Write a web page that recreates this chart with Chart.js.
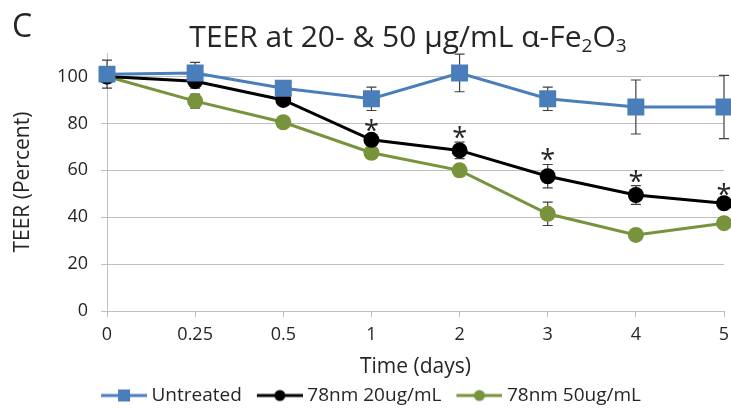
<!DOCTYPE html>
<html>
<head>
<meta charset="utf-8">
<script src="https://cdn.jsdelivr.net/npm/chart.js@4"></script>
<style>
  html, body { margin: 0; padding: 0; background: #fff; }
  #wrap { width: 731px; height: 411px; position: relative; }
</style>
</head>
<body>
<div id="wrap"><canvas id="teer"></canvas></div>
<script>
const days = ['0', '0.25', '0.5', '1', '2', '3', '4', '5'];

const untreated    = [101, 101.5, 95, 90.5, 101.5, 90.5, 87, 87];
const untreatedErr = [6, 4.5, 2, 5, 8, 5, 11.5, 13.5];
const nm20         = [100, 98, 90, 73, 68.5, 57.5, 49.5, 46];
const nm20Err      = [2, 3, 2, 2, 3.5, 5, 4, 2];
const nm50         = [100, 89.5, 80.5, 67.5, 60, 41.5, 32.5, 37.5];
const nm50Err      = [1, 3, 1.5, 1.5, 2.5, 5, 1, 1];
const nm20Sig      = ['', '', '', '*', '*', '*', '*', '*'];

const yTicks = [0, 20, 40, 60, 80, 100];

const BLUE = '#4a7ebb';
const BLACK = '#000000';
const GREEN = '#77933c';
const TEXT = '#262626';
const GRID = '#bfbfbf';
const FONT = "'Open Sans', 'Noto Sans', sans-serif";

// legend icon: a line with the marker in its middle, with blank room on the left
function legendIcon(color, style) {
  const c = document.createElement('canvas');
  c.width = 63;
  c.height = 16;
  const g = c.getContext('2d');
  g.strokeStyle = color;
  g.lineWidth = 3;
  g.beginPath();
  g.moveTo(17, 8);
  g.lineTo(63, 8);
  g.stroke();
  g.fillStyle = color;
  if (style === 'rect') {
    g.fillRect(34, 2, 12, 12);
  } else {
    g.beginPath();
    g.arc(40, 8, 5.5, 0, Math.PI * 2);
    g.fill();
  }
  return c;
}

const errorBarPlugin = {
  id: 'errorBars',
  beforeDatasetsDraw(chart) {
    const { ctx, scales: { x, y } } = chart;
    const errs = [untreatedErr, nm20Err, nm50Err];
    ctx.save();
    ctx.strokeStyle = '#404040';
    ctx.lineWidth = 1.2;
    chart.data.datasets.forEach((ds, i) => {
      ds.data.forEach((v, j) => {
        const e = errs[i][j];
        if (!e) return;
        const px = x.getPixelForValue(j);
        const top = y.getPixelForValue(v + e);
        const bot = y.getPixelForValue(v - e);
        ctx.beginPath();
        ctx.moveTo(px, top);
        ctx.lineTo(px, bot);
        ctx.moveTo(px - 5, top);
        ctx.lineTo(px + 5, top);
        ctx.moveTo(px - 5, bot);
        ctx.lineTo(px + 5, bot);
        ctx.stroke();
      });
    });
    ctx.restore();
  },
  afterDatasetsDraw(chart) {
    const { ctx, scales: { x, y } } = chart;
    ctx.save();
    ctx.fillStyle = TEXT;
    ctx.font = `27px ${FONT}`;
    ctx.textAlign = 'center';
    ctx.textBaseline = 'alphabetic';
    nm20Sig.forEach((s, j) => {
      if (!s) return;
      const px = x.getPixelForValue(j);
      const top = y.getPixelForValue(nm20[j] + nm20Err[j]);
      ctx.fillText(s, px, top + 5);
    });
    ctx.restore();
  },
};

const titlePlugin = {
  id: 'subTitle',
  afterDraw(chart) {
    const ctx = chart.ctx;
    const big = `30px ${FONT}`;
    const small = `19px ${FONT}`;
    const parts = [
      ['TEER at 20- & 50 \u00b5g/mL \u03b1-Fe', big, 0],
      ['2', small, 5],
      ['O', big, 0],
      ['3', small, 5],
    ];
    ctx.save();
    ctx.fillStyle = TEXT;
    ctx.textBaseline = 'alphabetic';
    let w = 0;
    parts.forEach(([t, f]) => { ctx.font = f; w += ctx.measureText(t).width; });
    let cx = 408 - w / 2;
    parts.forEach(([t, f, dy]) => {
      ctx.font = f;
      ctx.fillText(t, cx, 47 + dy);
      cx += ctx.measureText(t).width;
    });
    ctx.font = `32px ${FONT}`;
    ctx.fillText('C', 12, 37);
    ctx.restore();
  },
};

function series(label, data, color, pointStyle, radius) {
  return {
    label,
    data,
    borderColor: color,
    backgroundColor: color,
    borderWidth: 3,
    pointStyle,
    pointRadius: radius,
    pointBorderWidth: 0,
    pointBackgroundColor: color,
    tension: 0,
  };
}

const icons = [legendIcon(BLUE, 'rect'), legendIcon(BLACK, 'circle'), legendIcon(GREEN, 'circle')];

new Chart(document.getElementById('teer'), {
  type: 'line',
  data: {
    labels: days,
    datasets: [
      series('Untreated', untreated, BLUE, 'rect', 12),
      series('78nm 20ug/mL', nm20, BLACK, 'circle', 8),
      series('78nm 50ug/mL', nm50, GREEN, 'circle', 8),
    ],
  },
  options: {
    responsive: true,
    maintainAspectRatio: false,
    animation: false,
    layout: { autoPadding: false, padding: { top: 53, right: 1, left: 0, bottom: -4 } },
    plugins: {
      title: { display: false },
      tooltip: { enabled: false },
      legend: {
        position: 'bottom',
        labels: {
          color: TEXT,
          font: { family: FONT, size: 19 },
          usePointStyle: true,
          pointStyleWidth: 53,
          boxHeight: 16,
          padding: 3,
          generateLabels: (chart) => chart.data.datasets.map((ds, i) => ({
            text: ds.label,
            fontColor: TEXT,
            pointStyle: icons[i],
            datasetIndex: i,
            hidden: false,
            lineWidth: 0,
          })),
        },
      },
    },
    scales: {
      x: {
        type: 'category',
        offset: false,
        afterFit: (scale) => { scale.paddingRight = 7; },
        grid: { drawOnChartArea: false, drawTicks: true, tickLength: 6, color: GRID },
        border: { color: GRID, width: 1 },
        ticks: { color: TEXT, font: { family: FONT, size: 18 }, padding: 7, maxRotation: 0 },
        title: { display: true, text: 'Time (days)', color: TEXT, font: { family: FONT, size: 21 }, padding: { top: 2, bottom: 3 } },
      },
      y: {
        min: 0,
        max: 110,
        afterBuildTicks: (scale) => { scale.ticks = yTicks.map((value) => ({ value })); },
        afterFit: (scale) => { scale.width = 107; },
        grid: { color: GRID, tickLength: 6, lineWidth: 1 },
        border: { color: GRID, width: 1 },
        ticks: { color: TEXT, font: { family: FONT, size: 18 }, padding: 13 },
        title: { display: true, text: 'TEER (Percent)', color: TEXT, font: { family: FONT, size: 21 }, padding: { top: 10 } },
      },
    },
  },
  plugins: [errorBarPlugin, titlePlugin],
});
</script>
</body>
</html>
